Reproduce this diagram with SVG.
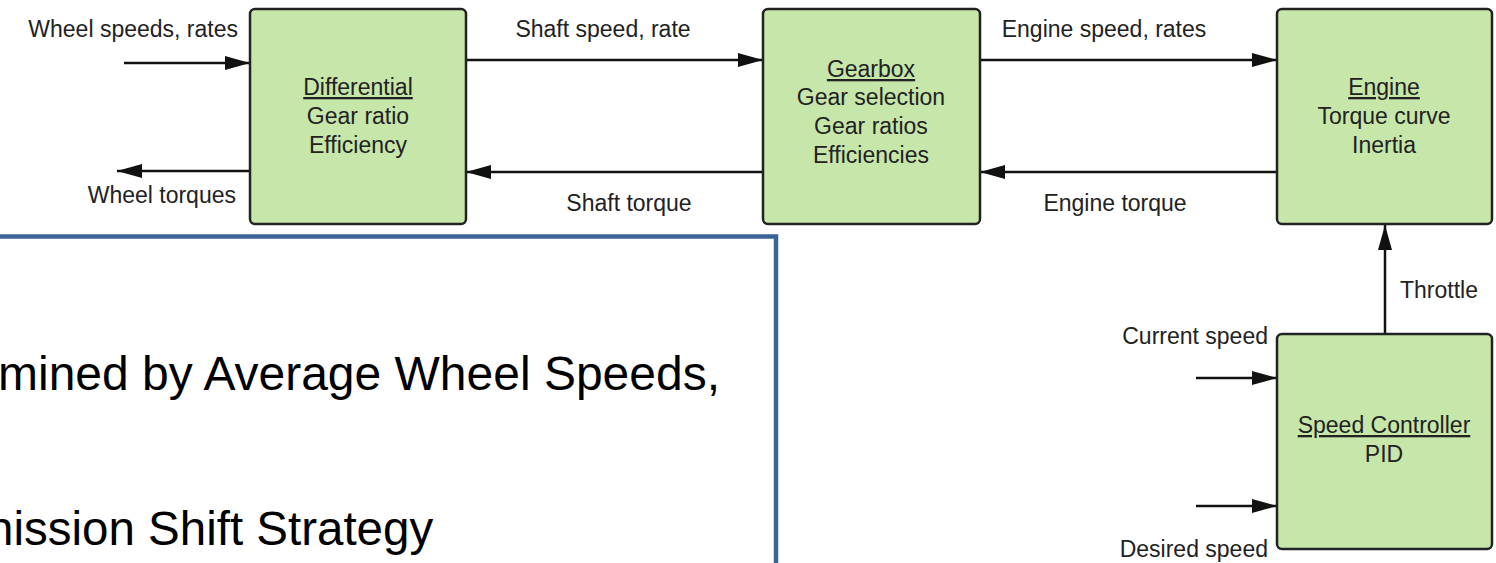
<svg xmlns="http://www.w3.org/2000/svg" width="1496" height="563" viewBox="0 0 1496 563">
  <defs>
    <marker id="arrow" markerUnits="userSpaceOnUse" markerWidth="25" markerHeight="14" refX="25" refY="7" orient="auto">
      <path d="M0,0 L25,7 L0,14 z" fill="#111"/>
    </marker>
    <style>
      .box { fill: #c6e6aa; stroke: #222; stroke-width: 2.5; }
      .conn { stroke: #111; stroke-width: 2.5; fill: none; marker-end: url(#arrow); }
      .lbl { font-family: "Liberation Sans", Arial, sans-serif; font-size: 23px; fill: #222; }
      .node { font-family: "Liberation Sans", Arial, sans-serif; font-size: 23px; fill: #222; text-anchor: middle; }
      .u { text-decoration: underline; }
      .big { font-family: "Liberation Sans", Arial, sans-serif; font-size: 47.5px; fill: #000; }
    </style>
  </defs>

  <g id="connectors">
    <line class="conn" x1="124" y1="63" x2="250" y2="63"/>
    <line class="conn" x1="250" y1="171" x2="117" y2="171"/>
    <line class="conn" x1="466" y1="60" x2="763" y2="60"/>
    <line class="conn" x1="763" y1="172" x2="466" y2="172"/>
    <line class="conn" x1="980" y1="60" x2="1277" y2="60"/>
    <line class="conn" x1="1277" y1="172" x2="980" y2="172"/>
    <line class="conn" x1="1385" y1="334" x2="1385" y2="225"/>
    <line class="conn" x1="1196" y1="378" x2="1277" y2="378"/>
    <line class="conn" x1="1196" y1="506" x2="1277" y2="506"/>
  </g>

  <g id="labels">
    <text class="lbl" x="238" y="37" text-anchor="end">Wheel speeds, rates</text>
    <text class="lbl" x="236" y="203" text-anchor="end">Wheel torques</text>
    <text class="lbl" x="603" y="37" text-anchor="middle">Shaft speed, rate</text>
    <text class="lbl" x="629" y="211" text-anchor="middle">Shaft torque</text>
    <text class="lbl" x="1104" y="37" text-anchor="middle">Engine speed, rates</text>
    <text class="lbl" x="1115" y="211" text-anchor="middle">Engine torque</text>
    <text class="lbl" x="1400" y="298">Throttle</text>
    <text class="lbl" x="1268" y="344" text-anchor="end">Current speed</text>
    <text class="lbl" x="1268" y="557" text-anchor="end">Desired speed</text>
  </g>

  <g id="differential">
    <rect class="box" x="250" y="9" width="216" height="215" rx="5"/>
    <text class="node" x="358" y="95"><tspan class="u">Differential</tspan></text>
    <text class="node" x="358" y="124">Gear ratio</text>
    <text class="node" x="358" y="153">Efficiency</text>
  </g>

  <g id="gearbox">
    <rect class="box" x="763" y="9" width="217" height="215" rx="5"/>
    <text class="node" x="871" y="77"><tspan class="u">Gearbox</tspan></text>
    <text class="node" x="871" y="105">Gear selection</text>
    <text class="node" x="871" y="134">Gear ratios</text>
    <text class="node" x="871" y="163">Efficiencies</text>
  </g>

  <g id="engine">
    <rect class="box" x="1277" y="9" width="215" height="215" rx="5"/>
    <text class="node" x="1384" y="95"><tspan class="u">Engine</tspan></text>
    <text class="node" x="1384" y="124">Torque curve</text>
    <text class="node" x="1384" y="153">Inertia</text>
  </g>

  <g id="speed-controller">
    <rect class="box" x="1277" y="334" width="215" height="215" rx="5"/>
    <text class="node" x="1384" y="433"><tspan class="u">Speed Controller</tspan></text>
    <text class="node" x="1384" y="462">PID</text>
  </g>

  <g id="overlay">
    <rect x="-10" y="236.5" width="786" height="400" fill="#fff" stroke="#3b6496" stroke-width="4.5"/>
    <text class="big" x="-2" y="390" textLength="722" lengthAdjust="spacingAndGlyphs">mined by Average Wheel Speeds,</text>
    <text class="big" x="-13" y="545">nission Shift Strategy</text>
  </g>
</svg>
